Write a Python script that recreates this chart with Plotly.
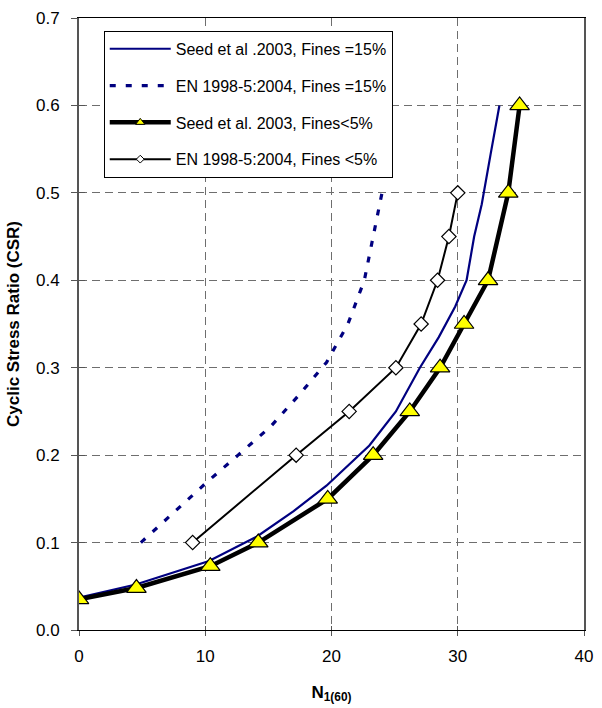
import plotly.graph_objects as go

# ---- data ----
seed15_n = [0, 4.5, 10.3, 14.1, 17.0, 19.6, 23.0, 25.1, 27.0, 28.5, 29.8, 30.7, 31.3, 31.9, 32.6, 33.3]
seed15_csr = [0.037, 0.052, 0.079, 0.107, 0.136, 0.165, 0.211, 0.25, 0.30, 0.335, 0.37, 0.40, 0.45, 0.487, 0.544, 0.60]

en15_n = [4.9, 10.2, 12.6, 15.2, 17.5, 19.6, 21.3, 22.6, 23.3, 24.0]
en15_csr = [0.10, 0.17, 0.20, 0.233, 0.27, 0.306, 0.35, 0.40, 0.45, 0.50]

seed5_n = [0, 4.55, 10.4, 14.2, 19.7, 23.3, 26.2, 28.6, 30.5, 32.4, 34.0, 34.9]
seed5_csr = [0.035, 0.048, 0.073, 0.10, 0.15, 0.20, 0.25, 0.30, 0.35, 0.40, 0.50, 0.60]

en5_n = [9.0, 17.2, 21.4, 25.1, 27.1, 28.4, 29.3, 30.0]
en5_csr = [0.10, 0.20, 0.25, 0.30, 0.35, 0.40, 0.45, 0.50]

names = ["Seed et al .2003, Fines =15%", "EN 1998-5:2004, Fines =15%",
         "Seed et al. 2003, Fines<5%", "EN 1998-5:2004, Fines <5%"]

x_ticks = [0, 10, 20, 30, 40]
y_ticks = [0.0, 0.1, 0.2, 0.3, 0.4, 0.5, 0.6, 0.7]

NAVY = "#000080"
FONT = "Arial, Liberation Sans, sans-serif"

fig = go.Figure()

# data traces (no legend)
fig.add_trace(go.Scatter(x=seed15_n, y=seed15_csr, mode="lines",
                         line=dict(color=NAVY, width=2.2), showlegend=False))
fig.add_trace(go.Scatter(x=en15_n, y=en15_csr, mode="lines",
                         line=dict(color=NAVY, width=3.2, dash="6px,10px"), showlegend=False))
fig.add_trace(go.Scatter(x=seed5_n, y=seed5_csr, mode="lines+markers",
                         line=dict(color="black", width=4.5),
                         marker=dict(symbol="triangle-up", size=17, color="#FFFF00",
                                     line=dict(color="black", width=1.2)),
                         showlegend=False))
fig.add_trace(go.Scatter(x=en5_n, y=en5_csr, mode="lines+markers",
                         line=dict(color="black", width=2),
                         marker=dict(symbol="diamond", size=11, color="white",
                                     line=dict(color="black", width=1.2)),
                         showlegend=False))

# legend-only entries
fig.add_trace(go.Scatter(x=[None], y=[None], mode="lines", name=names[0], legendgroup="a",
                         line=dict(color=NAVY, width=2.2)))
fig.add_trace(go.Scatter(x=[None], y=[None], mode="lines", name=names[1], legendgroup="b",
                         line=dict(color=NAVY, width=3.2, dash="6px,10px")))
fig.add_trace(go.Scatter(x=[None], y=[None], mode="lines+markers", name=names[2], legendgroup="c",
                         line=dict(color="black", width=4.5),
                         marker=dict(symbol="triangle-up", size=8, color="#FFFF00",
                                     line=dict(color="black", width=1))))
fig.add_trace(go.Scatter(x=[None], y=[None], mode="lines+markers", name=names[3], legendgroup="d",
                         line=dict(color="black", width=2),
                         marker=dict(symbol="diamond", size=6, color="white",
                                     line=dict(color="black", width=1))))

# dummy for overlay axes (cross ticks)
fig.add_trace(go.Scatter(x=[], y=[], xaxis="x2", yaxis="y2", showlegend=False, hoverinfo="skip"))

fig.update_layout(
    width=602, height=708,
    margin=dict(l=79, r=9, t=14, b=78),
    paper_bgcolor="white", plot_bgcolor="white",
    font=dict(family=FONT, size=17, color="black"),
    showlegend=True,
    legend=dict(x=0.049, y=0.979, xanchor="left", yanchor="top",
                bgcolor="white", bordercolor="black", borderwidth=1,
                font=dict(family=FONT, size=16, color="black"),
                itemwidth=61, tracegroupgap=13, traceorder="grouped"),
    xaxis=dict(range=[0, 40], tickvals=x_ticks, ticktext=[str(v) for v in x_ticks],
               showgrid=True, gridcolor="#6e6e6e", gridwidth=1, griddash="8px,5px",
               showline=True, linecolor="black", linewidth=1, mirror=True,
               ticks="outside", ticklen=5, tickcolor="#555", tickwidth=1,
               zeroline=False, ticklabelstandoff=6,
               title=dict(text="<b>N<sub>1(60)</sub></b>", font=dict(size=17), standoff=20)),
    yaxis=dict(range=[0, 0.7], tickvals=y_ticks, ticktext=[f"{v:.1f}" for v in y_ticks],
               showgrid=True, gridcolor="#6e6e6e", gridwidth=1, griddash="8px,5px",
               showline=True, linecolor="#555", linewidth=2, mirror=True,
               ticks="outside", ticklen=6, tickcolor="#555", tickwidth=1,
               zeroline=False, ticklabelstandoff=8,
               title=dict(text="<b>Cyclic Stress Ratio (CSR)</b>", font=dict(size=17), standoff=12)),
    xaxis2=dict(overlaying="x", matches="x", anchor="y2", tickvals=x_ticks,
                ticks="inside", ticklen=4, tickcolor="#555", tickwidth=1,
                showticklabels=False, showgrid=False, showline=False, zeroline=False),
    yaxis2=dict(overlaying="y", matches="y", anchor="x2", side="left", tickvals=y_ticks,
                ticks="inside", ticklen=6, tickcolor="#555", tickwidth=1,
                showticklabels=False, showgrid=False, showline=False, zeroline=False),
)

fig.write_html("out.html")
